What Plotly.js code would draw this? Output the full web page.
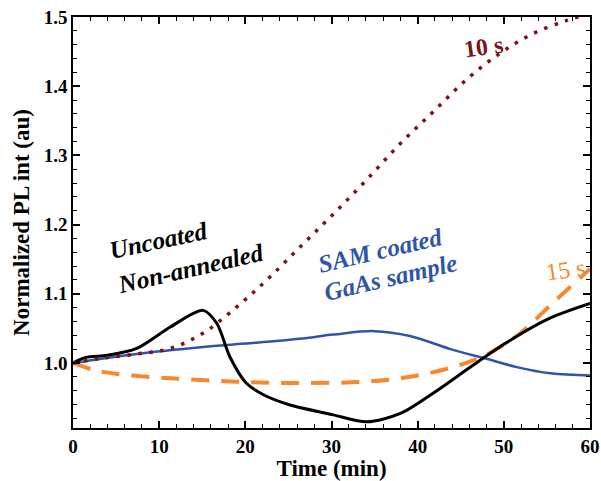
<!DOCTYPE html>
<html>
<head>
<meta charset="utf-8">
<script src="https://cdn.plot.ly/plotly-3.0.1.min.js"></script>
<style>
html,body{margin:0;padding:0;background:#fff;}
#chart{width:601px;height:481px;}
#chart svg text{font-family:'Liberation Serif' !important;}
</style>
</head>
<body>
<div id="chart"></div>
<script>
// 10 s annealed (dotted dark red)
const x10 = [0, 3.5, 7.4, 11.3, 15.1, 19, 22.5, 26.3, 30.2, 34.1, 37.9, 41.8, 45.7, 49.6, 53.4, 57.3, 60];
const y10 = [1.0, 1.007, 1.013, 1.021, 1.043, 1.081, 1.120, 1.167, 1.215, 1.265, 1.316, 1.363, 1.410, 1.448, 1.476, 1.495, 1.505];
// Uncoated non-annealed (black solid)
const xUn = [0, 1.5, 4, 7.4, 11.3, 15.1, 16.7, 18.2, 20.1, 22.1, 25, 30.2, 34.1, 38, 42, 46, 50, 55.4, 60];
const yUn = [1.0, 1.008, 1.011, 1.021, 1.052, 1.076, 1.057, 1.009, 0.971, 0.954, 0.940, 0.925, 0.915, 0.927, 0.958, 0.993, 1.027, 1.065, 1.086];
// SAM coated GaAs sample (blue solid)
const xSam = [0, 7.4, 15.1, 20, 26.3, 30.2, 35, 39.1, 43.8, 48, 51.5, 55.4, 60];
const ySam = [1.0, 1.013, 1.023, 1.028, 1.035, 1.041, 1.046, 1.039, 1.020, 1.006, 0.994, 0.985, 0.982];
// 15 s annealed (orange dashed)
const x15 = [0, 2.4, 5.8, 11.3, 17.1, 20.9, 26.7, 34.1, 39.1, 43.8, 48, 51.9, 55.7, 60];
const y15 = [1.0, 0.99, 0.983, 0.978, 0.974, 0.972, 0.971, 0.973, 0.98, 0.993, 1.012, 1.043, 1.087, 1.136];

const xTicks = [0, 10, 20, 30, 40, 50, 60];
const yTicks = [1.0, 1.1, 1.2, 1.3, 1.4, 1.5];

const RED = '#7a1418', BLUE = '#2f55a6', ORANGE = '#f7882f';
const FONT = 'Liberation Serif';

const traces = [
  {x: xSam, y: ySam, mode: 'lines', line: {color: BLUE, width: 2.5, shape: 'spline', smoothing: 1}},
  {x: x15, y: y15, mode: 'lines', line: {color: ORANGE, width: 4, dash: '18px,12px', shape: 'spline', smoothing: 1}},
  {x: xUn, y: yUn, mode: 'lines', line: {color: '#000', width: 3, shape: 'spline', smoothing: 0.8}},
  {x: x10, y: y10, mode: 'lines', line: {color: RED, width: 3.5, dash: '3.5px,7.5px', shape: 'spline', smoothing: 1}}
];

function ann(text, x, y, color, angle, italic, size, bold) {
  let t = italic ? '<i>' + text + '</i>' : text;
  if (bold) t = '<b>' + t + '</b>';
  return {text: t, x: x, y: y, xref: 'x', yref: 'y', showarrow: false, textangle: angle,
    font: {family: FONT, size: size, color: color, style: italic ? 'italic' : 'normal', weight: bold ? 'bold' : 'normal'}};
}

const layout = {
  width: 601, height: 481,
  margin: {l: 73, r: 11, t: 17, b: 53},
  paper_bgcolor: '#fff', plot_bgcolor: '#fff',
  showlegend: false,
  font: {family: FONT, color: '#000'},
  xaxis: {
    range: [0, 60], tickvals: xTicks, ticktext: xTicks.map(String),
    ticks: 'inside', ticklen: 7, tickwidth: 1.5, tickcolor: '#000',
    showline: true, linewidth: 1.5, linecolor: '#000', mirror: 'ticks',
    showgrid: false, zeroline: false,
    minor: {dtick: 2, ticks: 'inside', ticklen: 4, tickwidth: 1.2, tickcolor: '#000', showgrid: false},
    tickfont: {family: FONT, size: 19, weight: 'bold', color: '#000'},
    title: {text: 'Time (min)', font: {family: FONT, size: 23, weight: 'bold', color: '#000'}, standoff: 2}
  },
  yaxis: {
    range: [0.906, 1.5], tickvals: yTicks, ticktext: yTicks.map(v => v.toFixed(1)),
    ticks: 'inside', ticklen: 7, tickwidth: 1.5, tickcolor: '#000',
    showline: true, linewidth: 1.5, linecolor: '#000', mirror: 'ticks',
    showgrid: false, zeroline: false,
    minor: {dtick: 0.02, tick0: 0.9, ticks: 'inside', ticklen: 4, tickwidth: 1.2, tickcolor: '#000', showgrid: false},
    tickfont: {family: FONT, size: 19, weight: 'bold', color: '#000'},
    title: {text: 'Normalized PL int (au)', font: {family: FONT, size: 23, weight: 'bold', color: '#000'}, standoff: 8}
  },
  annotations: [
    ann('Uncoated', 9.9, 1.177, '#000', -12, true, 25, true),
    ann('Non-annealed', 13.6, 1.137, '#000', -13, true, 25, true),
    ann('SAM coated', 35.6, 1.163, BLUE, -13, true, 25, true),
    ann('GaAs sample', 36.8, 1.123, BLUE, -13, true, 25, true),
    ann('10 s', 47.6, 1.456, RED, -8, false, 24, true),
    ann('15 s', 57.1, 1.134, ORANGE, -8, false, 24, false)
  ]
};

Plotly.newPlot('chart', traces, layout, {displayModeBar: false});
</script>
</body>
</html>
